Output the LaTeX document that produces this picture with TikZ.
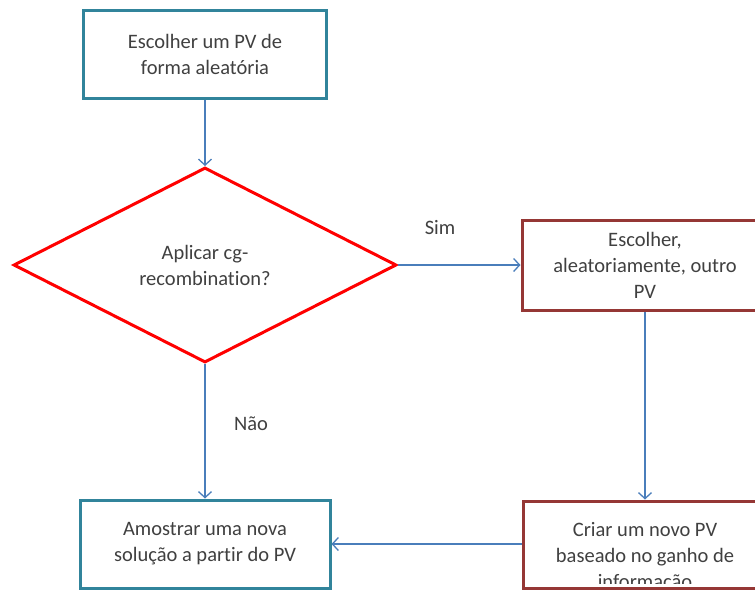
\documentclass[tikz,border=0pt]{standalone}
\usepackage{fontspec}
\setmainfont{Carlito}[Ligatures=NoCommon]
\usetikzlibrary{shapes.geometric,arrows.meta}
\definecolor{verdeazul}{HTML}{31849B}
\definecolor{vinho}{HTML}{953735}
\definecolor{azul}{HTML}{4A7EBB}
\definecolor{texto}{HTML}{404040}

\begin{document}
\begin{tikzpicture}[x=1pt, y=-1pt, font=\fontsize{20.5}{26}\selectfont]
        \tikzstyle{passo}  = [rectangle, draw=verdeazul, line width=3pt, fill=white, align=center, text=texto, inner sep=0pt, minimum height=88pt]
        \tikzstyle{decisao} = [diamond, draw=red, line width=3pt, fill=white, align=center, text=texto, inner sep=0pt]
        \tikzstyle{seta}   = [draw=azul, line width=1.3pt, -{Straight Barb[length=6pt,width=13pt]}]
        \tikzstyle{rotulo} = [text=texto, align=center, inner sep=0pt]

                \useasboundingbox (0,0) rectangle (755,590);
                \clip (0,0) rectangle (755,590);

                \node [passo, minimum width=243pt](inicio) at (205, 54) {Escolher um PV de\\forma aleatória};
                \node [decisao, minimum width=383pt, minimum height=195pt](teste) at (205, 265) {Aplicar cg-\\recombination?};
                \node [passo, draw=vinho, minimum width=246pt, minimum height=90pt](outro) at (645, 265) {Escolher,\\aleatoriamente, outro\\PV};
                \node [passo, minimum width=250pt](amostra) at (205, 544) {Amostrar uma nova\\solução a partir do PV};
                \node [passo, draw=vinho, minimum width=244pt, minimum height=87pt](criar) at (645, 544.5) {};

                % texto que transborda a caixa
                \begin{scope}
                        \clip ([shift={(1.5,-6)}]criar.south west) rectangle ([shift={(-1.5,1.5)}]criar.north east);
                        \node [rotulo, anchor=north](criartxt) at (645, 522) {Criar um novo PV\\baseado no ganho de\\informação};
                \end{scope}

                \node [rotulo](sim) at (440, 228) {Sim};
                \node [rotulo](nao) at (251, 424) {Não};

                \draw [seta] (inicio) -- (teste);
                \draw [seta] (teste) -- (amostra);
                \draw [seta] (teste.east) -- (outro.west);
                \draw [seta] (outro) -- (criar);
                \draw [seta] (criar.west |- amostra.east) -- (amostra.east);
\end{tikzpicture}
\end{document}
